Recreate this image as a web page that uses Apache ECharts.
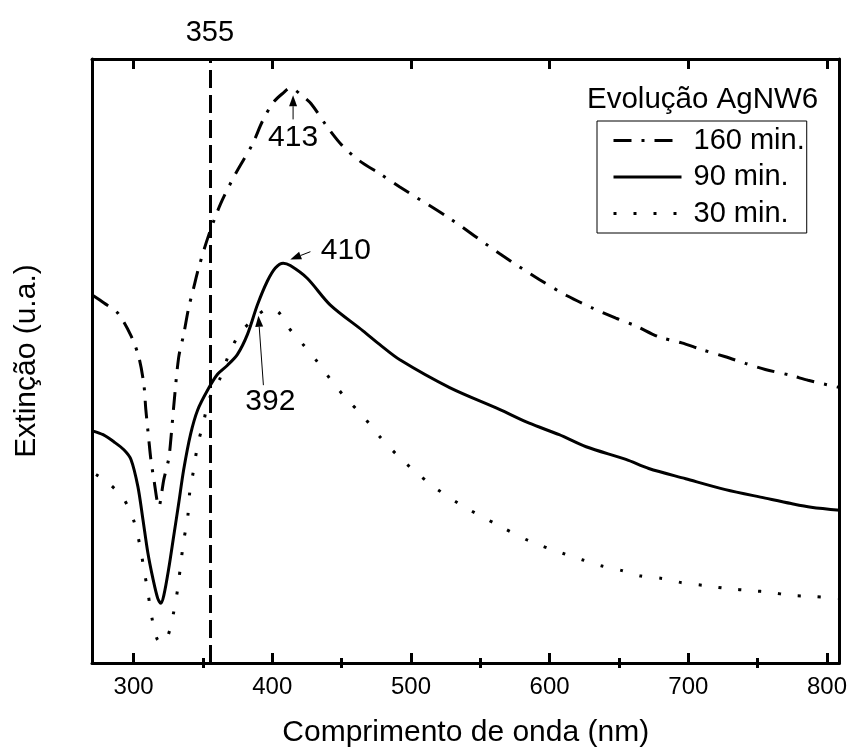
<!DOCTYPE html>
<html>
<head>
<meta charset="utf-8">
<script src="https://cdn.jsdelivr.net/npm/echarts@6/dist/echarts.min.js"></script>
<style>html,body{margin:0;padding:0;background:#fff}#c{width:850px;height:753px}</style>
</head>
<body>
<div id="c"></div>
<script>
// ---- data (wavelength in nm, extinction in arbitrary units) ----
const seriesNames = ['160 min.', '90 min.', '30 min.'];
const majorTicks = [300, 400, 500, 600, 700, 800];
const minorTicks = [350, 450, 550, 650, 750];
const markerWavelength = 355;

const wl160 = [271,278.7,288.7,298.1,303.8,307.4,308.8,311.0,312.4,314.6,318.2,321.8,325.3,326.8,328.9,332.5,336.1,339.7,343.3,346.9,354.1,362.7,373.5,385.7,392.9,400.7,408,413,421.6,428.0,439.5,450.3,463.2,477.6,492.0,527.9,563.8,592.5,612.6,630.6,647.8,662.2,678.7,695.2,709.6,726.8,741.2,755.5,774.2,786.4,809.4];
const ext160 = [60.8,59.6,57.9,54.2,50.6,46.1,42.0,36.9,33.8,30.4,25.9,30.4,33.8,36.9,42.4,50.6,54.4,58.8,62.1,65.4,70.8,76.0,81.0,85.9,89.7,92.8,94.4,95.2,93.9,92.6,88.8,85.7,83.1,81.0,78.8,73.6,67.8,63.5,60.8,58.8,57.1,55.8,54.0,53.0,51.9,50.7,49.6,48.6,47.6,46.8,45.6];

const wl90 = [270.8,278.0,285.9,293.0,298.1,303.1,306.7,310.3,313.9,317.4,319.6,321.8,325.3,328.9,332.5,336.1,341.1,346.2,353.4,360.5,367.7,374.9,382.1,389.3,396.4,402.2,407.9,413.0,425.2,441.7,465.4,477.6,492.0,527.9,563.8,585.3,606.9,626.3,655.0,671.5,698.1,726.8,755.5,774.2,788.6,809.4];
const ext90 = [38.4,37.8,36.6,35.3,33.7,29.2,23.8,18.2,14.0,10.7,9.9,11.2,15.6,21.0,26.4,32.0,37.9,41.9,45.2,47.8,49.3,51.1,54.4,59.3,63.2,65.4,66.2,65.8,63.7,59.3,55.0,52.7,50.2,45.6,42.0,39.7,37.8,35.8,33.7,32.2,30.5,28.7,27.3,26.4,25.8,25.3];

const wl30 = [272.9,282.3,293.0,300.2,304.5,307.4,310.3,313.1,316.7,320.3,324.6,328.9,331.8,334.0,336.1,339.0,340.4,343.3,346.2,350.5,354.1,362.7,368.4,375.6,387.1,397.2,404.4,410.8,421.6,432.4,442.5,453.2,465.4,476.2,492.0,513.5,535.1,563.8,585.3,609.0,623.4,637.1,652.2,665.8,680.9,695.2,712.5,729.0,744.8,759.2,773.5,790.8,809.4];
const ext30 = [31.2,29.7,27.1,23.5,19.5,15.6,11.7,7.6,4.1,3.3,4.4,8.4,12.3,16.4,20.2,24.1,28.1,32.0,36.1,39.9,43.5,47.3,50.9,54.2,57.1,58.6,58.1,55.8,52.9,49.9,46.8,43.8,40.9,37.8,34.0,29.7,26.3,22.7,20.2,18.2,17.1,16.1,15.3,14.4,14.0,13.3,12.8,12.3,12.0,11.7,11.2,11.0,10.7];

// annotations: label, text position, arrow tail, arrow tip (data units)
const annLabels = ['413', '410', '392'];
const annText = [[415, 87.0], [435, 68.3], [398.6, 43.3]];
const annAlign = ['center', 'left', 'center'];
const annTail = [[415, 90.0], [427.5, 68.1], [393.6, 46.0]];
const annTip = [[415, 94.0], [413.0, 66.8], [390.0, 57.5]];

// ---- chart ----
const FONT = 'Liberation Sans, Arial, sans-serif';
const zip = (a, b) => a.map((v, i) => [v, b[i]]);
const chart = echarts.init(document.getElementById('c'), null, {renderer: 'canvas'});
const black = '#000';
const xBase = {
  type: 'value', min: 270, max: 809, gridIndex: 0,
  splitLine: {show: false},
  axisLine: {show: true, onZero: false, lineStyle: {color: black, width: 3}},
  axisLabel: {show: false},
  axisTick: {show: true, inside: true, length: 10, lineStyle: {color: black, width: 3}, customValues: majorTicks}
};
const option = {
  animation: false,
  backgroundColor: '#fff',
  textStyle: {fontFamily: FONT},
  grid: {left: 92, right: 8, top: 59, bottom: 85, containLabel: false},
  title: {
    text: 'Evolução AgNW6', left: 587, top: 85, padding: 0,
    textStyle: {fontSize: 29.5, fontWeight: 'normal', color: black, fontFamily: FONT}
  },
  legend: {
    data: seriesNames, orient: 'vertical', left: 597, top: 121,
    borderColor: black, borderWidth: 1, padding: [5, 2, 5, 15],
    itemWidth: 68, itemHeight: 30, itemGap: 7.5,
    itemStyle: {opacity: 0},
    lineStyle: {width: 3},
    textStyle: {fontSize: 29, color: black, fontFamily: FONT, padding: [0, 0, 0, 7]},
    selectedMode: false
  },
  xAxis: [
    Object.assign({}, xBase, {
      position: 'bottom',
      axisLabel: {show: true, customValues: majorTicks, fontSize: 24, color: black, margin: 12, fontFamily: FONT},
      name: 'Comprimento de onda (nm)', nameLocation: 'middle', nameGap: 55,
      nameTextStyle: {fontSize: 30, color: black, fontFamily: FONT}
    }),
    Object.assign({}, xBase, {position: 'top'}),
    Object.assign({}, xBase, {position: 'bottom', axisLine: {show: false},
      axisTick: {show: true, inside: true, length: 5, lineStyle: {color: black, width: 3}, customValues: minorTicks}}),
    Object.assign({}, xBase, {position: 'top', axisLine: {show: false},
      axisTick: {show: true, inside: true, length: 5, lineStyle: {color: black, width: 3}, customValues: minorTicks}})
  ],
  yAxis: [
    {type: 'value', min: 0, max: 100, position: 'left',
     axisLine: {show: true, onZero: false, lineStyle: {color: black, width: 3}},
     axisTick: {show: false}, axisLabel: {show: false}, splitLine: {show: false},
     name: 'Extinção (u.a.)', nameLocation: 'middle', nameGap: 50, nameRotate: 90,
     nameTextStyle: {fontSize: 30, color: black, fontFamily: FONT}},
    {type: 'value', min: 0, max: 100, position: 'right',
     axisLine: {show: true, onZero: false, lineStyle: {color: black, width: 3}},
     axisTick: {show: false}, axisLabel: {show: false}, splitLine: {show: false}}
  ],
  series: [
    {name: seriesNames[0], type: 'line', xAxisIndex: 0, yAxisIndex: 0, data: zip(wl160, ext160),
     symbol: 'none', smooth: 0.3, color: black,
     lineStyle: {color: black, width: 3, type: [18, 10, 3, 10]},
     markLine: {
       silent: true, symbol: ['none', 'none'],
       lineStyle: {color: black, width: 3, type: [18, 7]},
       label: {show: true, position: 'end', distance: 12, formatter: String(markerWavelength),
               fontSize: 29, color: black, fontFamily: FONT},
       data: [{xAxis: markerWavelength}]
     }},
    {name: seriesNames[1], type: 'line', xAxisIndex: 0, yAxisIndex: 0, data: zip(wl90, ext90),
     symbol: 'none', smooth: 0.3, color: black,
     lineStyle: {color: black, width: 3, type: 'solid'}},
    {name: seriesNames[2], type: 'line', xAxisIndex: 0, yAxisIndex: 0, data: zip(wl30, ext30),
     symbol: 'none', smooth: 0.3, color: black,
     lineStyle: {color: black, width: 3, type: [3, 17]}}
  ]
};
chart.setOption(option);

// annotations: arrows and labels placed through the chart's own coordinate system
const graphics = [];
annLabels.forEach((lab, i) => {
  const t = chart.convertToPixel({gridIndex: 0}, annText[i]);
  const a = chart.convertToPixel({gridIndex: 0}, annTail[i]);
  const b = chart.convertToPixel({gridIndex: 0}, annTip[i]);
  const dx = b[0] - a[0], dy = b[1] - a[1];
  const len = Math.hypot(dx, dy), ux = dx / len, uy = dy / len;
  const hl = 11, hw = 4;
  const bx = b[0] - ux * hl, by = b[1] - uy * hl;
  graphics.push({type: 'line', shape: {x1: a[0], y1: a[1], x2: bx, y2: by}, style: {stroke: black, lineWidth: 1}});
  graphics.push({type: 'polygon', shape: {points: [[b[0], b[1]], [bx - uy * hw, by + ux * hw], [bx + uy * hw, by - ux * hw]]}, style: {fill: black}});
  graphics.push({type: 'text', x: t[0], y: t[1], style: {text: lab, fontSize: 30, fontFamily: FONT, fill: black, align: annAlign[i], verticalAlign: 'middle'}});
});
chart.setOption({graphic: graphics});
</script>
</body>
</html>
